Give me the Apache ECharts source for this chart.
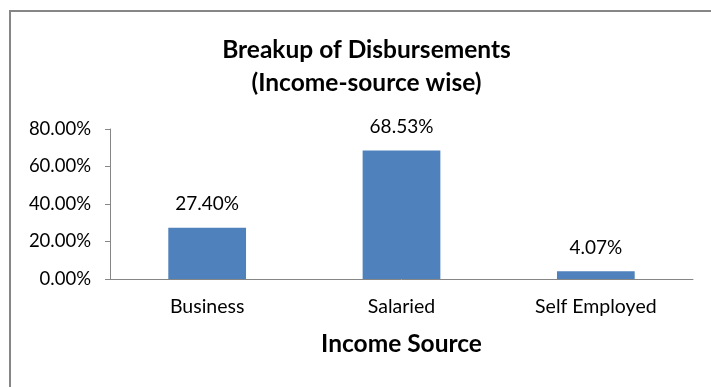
<!DOCTYPE html>
<html>
<head>
<meta charset="utf-8">
<script src="https://cdn.jsdelivr.net/npm/echarts@6/dist/echarts.min.js"></script>
<style>
  html, body { margin: 0; padding: 0; background: #ffffff; }
  #chart { width: 711px; height: 387px; }
</style>
</head>
<body>
<div id="chart"></div>
<script>
// Disbursement share by income source (percent)
const categories = ['Business', 'Salaried', 'Self Employed'];
const shares = [27.40, 68.53, 4.07];
const yTicks = [0, 20, 40, 60, 80];

const FONT = 'Lato';
const chart = echarts.init(document.getElementById('chart'), null, { renderer: 'canvas' });

chart.setOption({
  backgroundColor: '#ffffff',
  animation: false,
  textStyle: { fontFamily: FONT },
  title: {
    text: 'Breakup of Disbursements\n(Income-source wise)',
    left: 361.5,
    top: 29,
    textAlign: 'center',
    textStyle: { fontFamily: FONT, fontWeight: 'bold', fontSize: 24.5, lineHeight: 33, color: '#000000' }
  },
  graphic: [{
    type: 'rect',
    shape: { x: 10, y: 11, width: 800, height: 500 },
    style: { fill: 'none', stroke: '#868686', lineWidth: 2 },
    silent: true
  }],
  grid: { left: 110, right: 18, top: 129, bottom: 108, containLabel: false },
  xAxis: {
    type: 'category',
    data: categories,
    name: 'Income Source',
    nameLocation: 'middle',
    nameGap: 53,
    nameTextStyle: { fontFamily: FONT, fontWeight: 'bold', fontSize: 24.5, color: '#000000' },
    axisLine: { lineStyle: { color: '#868686', width: 1 } },
    axisTick: { show: false },
    axisLabel: { fontFamily: FONT, fontSize: 19.5, color: '#000000', margin: 18 }
  },
  yAxis: {
    type: 'value',
    min: yTicks[0],
    max: yTicks[yTicks.length - 1],
    interval: yTicks[1] - yTicks[0],
    axisLine: { show: true, lineStyle: { color: '#868686', width: 1 } },
    axisTick: { show: true, length: 5, lineStyle: { color: '#868686' } },
    splitLine: { show: false },
    axisLabel: {
      fontFamily: FONT, fontSize: 18.5, color: '#000000', margin: 19,
      formatter: v => v.toFixed(2) + '%'
    }
  },
  series: [{
    type: 'bar',
    data: shares,
    barWidth: '40%',
    itemStyle: { color: '#4f81bd' },
    label: {
      show: true,
      position: 'top',
      distance: 14,
      fontFamily: FONT,
      fontSize: 19,
      color: '#000000',
      formatter: p => p.value.toFixed(2) + '%'
    }
  }]
});
</script>
</body>
</html>
